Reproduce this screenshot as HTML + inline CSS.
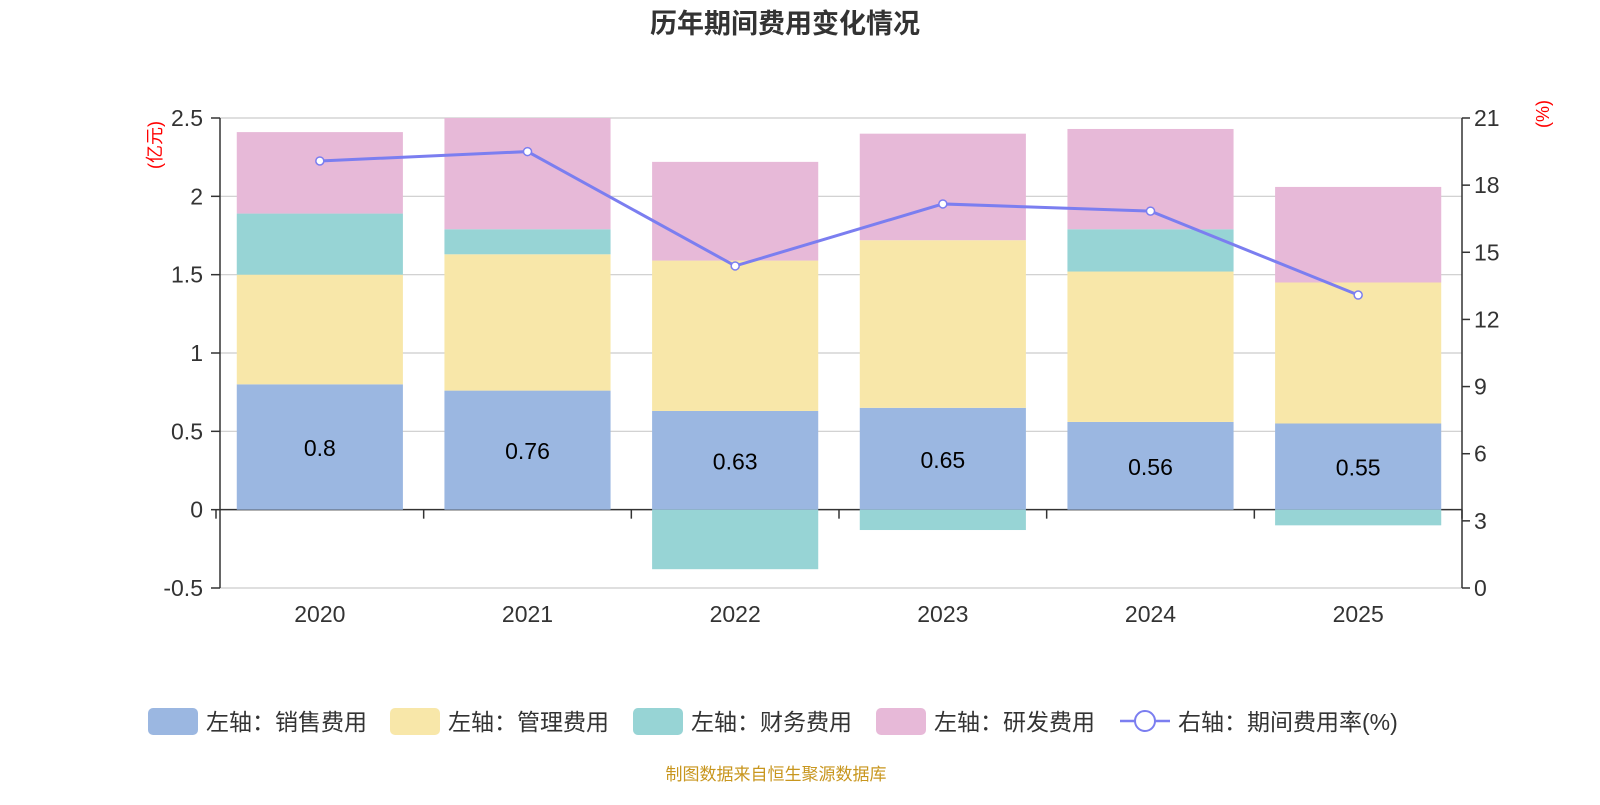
<!DOCTYPE html>
<html><head><meta charset="utf-8"><style>
body{margin:0;background:#fff;font-family:"Liberation Sans","Noto Sans CJK SC",sans-serif}
svg text{font-family:"Liberation Sans","Noto Sans CJK SC",sans-serif}
</style></head><body>
<svg id="c" width="1600" height="800" xmlns="http://www.w3.org/2000/svg">
<text x="785" y="33" text-anchor="middle" font-size="27" font-weight="bold" fill="#333">历年期间费用变化情况</text>
<text x="0" y="0" transform="translate(161,145) rotate(-90)" text-anchor="middle" font-size="18" fill="#f00">(亿元)</text>
<text x="0" y="0" transform="translate(1549,114) rotate(-90)" text-anchor="middle" font-size="18" fill="#f00">(%)</text>
<g id="grid"></g><g id="bars"></g><g id="line"></g><g id="axes"></g>
<g font-size="23" fill="#333">
<g><rect x="148" y="708" width="50" height="27" rx="5" fill="#9bb7e1"/><text x="206" y="730">左轴：销售费用</text></g>
<g><rect x="390" y="708" width="50" height="27" rx="5" fill="#f8e7a9"/><text x="448" y="730">左轴：管理费用</text></g>
<g><rect x="633" y="708" width="50" height="27" rx="5" fill="#97d4d5"/><text x="691" y="730">左轴：财务费用</text></g>
<g><rect x="876" y="708" width="50" height="27" rx="5" fill="#e7b9d8"/><text x="934" y="730">左轴：研发费用</text></g>
<g><line x1="1120" y1="721" x2="1170" y2="721" stroke="#7b7ef0" stroke-width="2.5"/><circle cx="1145" cy="721" r="10" fill="#fff" stroke="#7b7ef0" stroke-width="2"/><text x="1178" y="730">右轴：期间费用率(%)</text></g>
</g>
<text x="776" y="780" text-anchor="middle" font-size="17" fill="#c8961e">制图数据来自恒生聚源数据库</text>
</svg>
<script>
const categories=["2020","2021","2022","2023","2024","2025"];
const sales=[0.8,0.76,0.63,0.65,0.56,0.55];
const admin=[0.70,0.87,0.96,1.07,0.96,0.90];
const finance=[0.39,0.16,-0.38,-0.13,0.27,-0.10];
const rd=[0.52,0.71,0.63,0.68,0.64,0.61];
const rate=[19.08,19.5,14.39,17.16,16.84,13.09];
const leftTicks=[-0.5,0,0.5,1,1.5,2,2.5];
const rightTicks=[0,3,6,9,12,15,18,21];
const NS="http://www.w3.org/2000/svg";
const X0=216,X1=1462,Y0=588,Y1=118;
const bw=(X1-X0)/categories.length;
const yL=v=>Y0-(v+0.5)/3*(Y0-Y1);
const yR=v=>Y0-v/21*(Y0-Y1);
const xC=i=>X0+bw*(i+0.5);
function el(t,a,p){const e=document.createElementNS(NS,t);for(const k in a)e.setAttribute(k,a[k]);document.getElementById(p).appendChild(e);return e;}
leftTicks.forEach(v=>{
 const g=el('line',{x1:X0+4,x2:X1,y1:yL(v),y2:yL(v),stroke:v===0?'#333':'#ccc','stroke-width':v===0?1.5:1.2},'grid');
 
 
 const t=el('text',{x:203,y:yL(v)+8,'text-anchor':'end','font-size':23,fill:'#333'},'axes');t.textContent=v;
 
 
 el('line',{x1:211,x2:220,y1:yL(v),y2:yL(v),stroke:'#333','stroke-width':1.5},'axes');
});
el('line',{x1:220,x2:220,y1:Y1,y2:Y0,stroke:'#333','stroke-width':1.5},'axes');
el('line',{x1:X1,x2:X1,y1:Y1,y2:Y0,stroke:'#333','stroke-width':1.5},'axes');
rightTicks.forEach(v=>{
 el('line',{x1:X1,x2:X1+8,y1:yR(v),y2:yR(v),stroke:'#333','stroke-width':1.5},'axes');
 const t=el('text',{x:1474,y:yR(v)+8,'font-size':23,fill:'#333'},'axes');t.textContent=v;
 
 
});
for(let i=0;i<=categories.length;i++){el('line',{x1:X0+bw*i,x2:X0+bw*i,y1:yL(0),y2:yL(0)+9,stroke:'#333','stroke-width':1.5},'axes');}
categories.forEach((c,i)=>{
 const t=el('text',{x:xC(i),y:622,'text-anchor':'middle','font-size':23,fill:'#333'},'axes');t.textContent=c;
 
 
});
const series=[[sales,'#9bb7e1','bar-sales'],[admin,'#f8e7a9','bar-admin'],[finance,'#97d4d5','bar-finance'],[rd,'#e7b9d8','bar-rd']];
const w=bw*0.8;
categories.forEach((c,i)=>{
 let pos=0,neg=0;
 series.forEach(([arr,col,name])=>{
  const v=arr[i];let a,b;
  if(v>=0){a=pos;b=pos+v;pos=b;}else{a=neg;b=neg+v;neg=b;}
  const r=el('rect',{x:xC(i)-w/2,y:Math.min(yL(a),yL(b)),width:w,height:Math.abs(yL(a)-yL(b)),fill:col},'bars');
  
  
 });
 const t=el('text',{x:xC(i),y:(yL(0)+yL(sales[i]))/2+9,'text-anchor':'middle','font-size':23,fill:'#000'},'bars');t.textContent=sales[i];
 
 
});
const pl=el('polyline',{points:rate.map((v,i)=>xC(i)+','+yR(v)).join(' '),fill:'none',stroke:'#7b7ef0','stroke-width':3},'line');


rate.forEach((v,i)=>{
 const p=el('circle',{cx:xC(i),cy:yR(v),r:4,fill:'#fff',stroke:'#7b7ef0','stroke-width':1.5},'line');
 
 
});
</script>
</body></html>
